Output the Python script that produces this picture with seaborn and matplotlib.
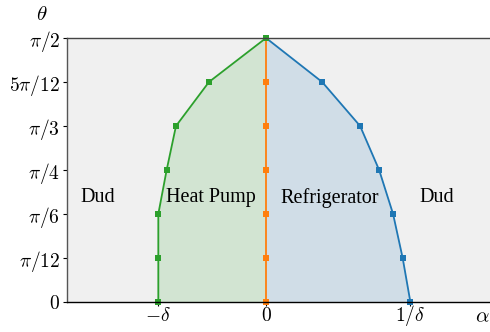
import numpy as np
import pandas as pd
import matplotlib
matplotlib.use("Agg")
import matplotlib.pyplot as plt
import seaborn as sns

sns.set_style("ticks")
plt.rcParams["font.family"] = ["Liberation Serif", "DejaVu Serif"]
plt.rcParams["mathtext.fontset"] = "cm"
plt.rcParams["text.color"] = "black"
plt.rcParams["xtick.color"] = "black"
plt.rcParams["ytick.color"] = "black"
plt.rcParams["xtick.labelcolor"] = "black"
plt.rcParams["ytick.labelcolor"] = "black"

delta = 0.866
theta = np.array([0, 1, 2, 3, 4, 5, 6]) * np.pi / 12
alpha_refrig = [1.16, 1.098, 1.021, 0.909, 0.756, 0.451, 0.0]
alpha_zero = [0.0, 0.0, 0.0, 0.0, 0.0, 0.0, 0.0]
alpha_heat = [-0.866, -0.866, -0.866, -0.799, -0.724, -0.459, 0.0]

ytick_vals = np.array([0, 1, 2, 3, 4, 5, 6]) * np.pi / 12
ytick_labels = [r"$0$", r"$\pi/12$", r"$\pi/6$", r"$\pi/4$", r"$\pi/3$", r"$5\pi/12$", r"$\pi/2$"]
xtick_vals = [-delta, 0, 1 / delta]
xtick_labels = [r"$-\delta$", r"$0$", r"$1/\delta$"]
regions = ["Dud", "Heat Pump", "Refrigerator", "Dud"]
region_x = [-1.35, -0.44, 0.51, 1.37]

fig = plt.figure(figsize=(4.9, 3.32), dpi=100)
ax = fig.add_axes([67 / 490, 30 / 332, 1 - 67 / 490, (302 - 38) / 332])
ax.set_facecolor("#f0f0f0")

c_blue, c_orange, c_green = "#1f77b4", "#ff7f0e", "#2ca02c"
ax.fill_betweenx(theta, alpha_zero, alpha_refrig, color=c_blue, alpha=0.15, lw=0)
ax.fill_betweenx(theta, alpha_heat, alpha_zero, color=c_green, alpha=0.15, lw=0)

df_b = pd.DataFrame({"a": alpha_refrig, "t": theta})
df_o = pd.DataFrame({"a": alpha_zero, "t": theta})
df_g = pd.DataFrame({"a": alpha_heat, "t": theta})
for d, c in [(df_b, c_blue), (df_o, c_orange), (df_g, c_green)]:
    sns.lineplot(data=d, x="a", y="t", sort=False, estimator=None, errorbar=None,
                 color=c, marker="s", markersize=5, markeredgewidth=0, lw=1.3,
                 ax=ax, clip_on=False)

for txt, xx in zip(regions, region_x):
    ax.text(xx, 0.62, txt, ha="center", va="center", fontsize=14.5, color="black")

ax.set_xlim(-1.6, 1.8)
ax.set_ylim(0, np.pi / 2)
ax.set_xticks(xtick_vals)
ax.set_xticklabels(xtick_labels, fontsize=14)
ax.set_yticks(ytick_vals)
ax.set_yticklabels(ytick_labels, fontsize=14)
ax.tick_params(axis="y", length=3, width=0.8, pad=2)
ax.tick_params(axis="x", length=3, width=0.8, pad=10.5)
ax.set_xlabel("")
ax.set_ylabel("")
for s in ["left", "bottom", "top"]:
    ax.spines[s].set_visible(True)
    ax.spines[s].set_color("black")
    ax.spines[s].set_linewidth(1.0)
ax.spines["left"].set_color("#555555")
ax.spines["top"].set_color("#444444")
ax.spines["right"].set_visible(False)
for lab in ax.get_xticklabels():
    lab.set_va("baseline")

fig.text(42 / 490, 1 - 15 / 332, r"$\theta$", ha="center", va="center", fontsize=15)
fig.text(482 / 490, 1 - 318 / 332, r"$\alpha$", ha="center", va="center", fontsize=15)

fig.savefig("out.png", dpi=100)
